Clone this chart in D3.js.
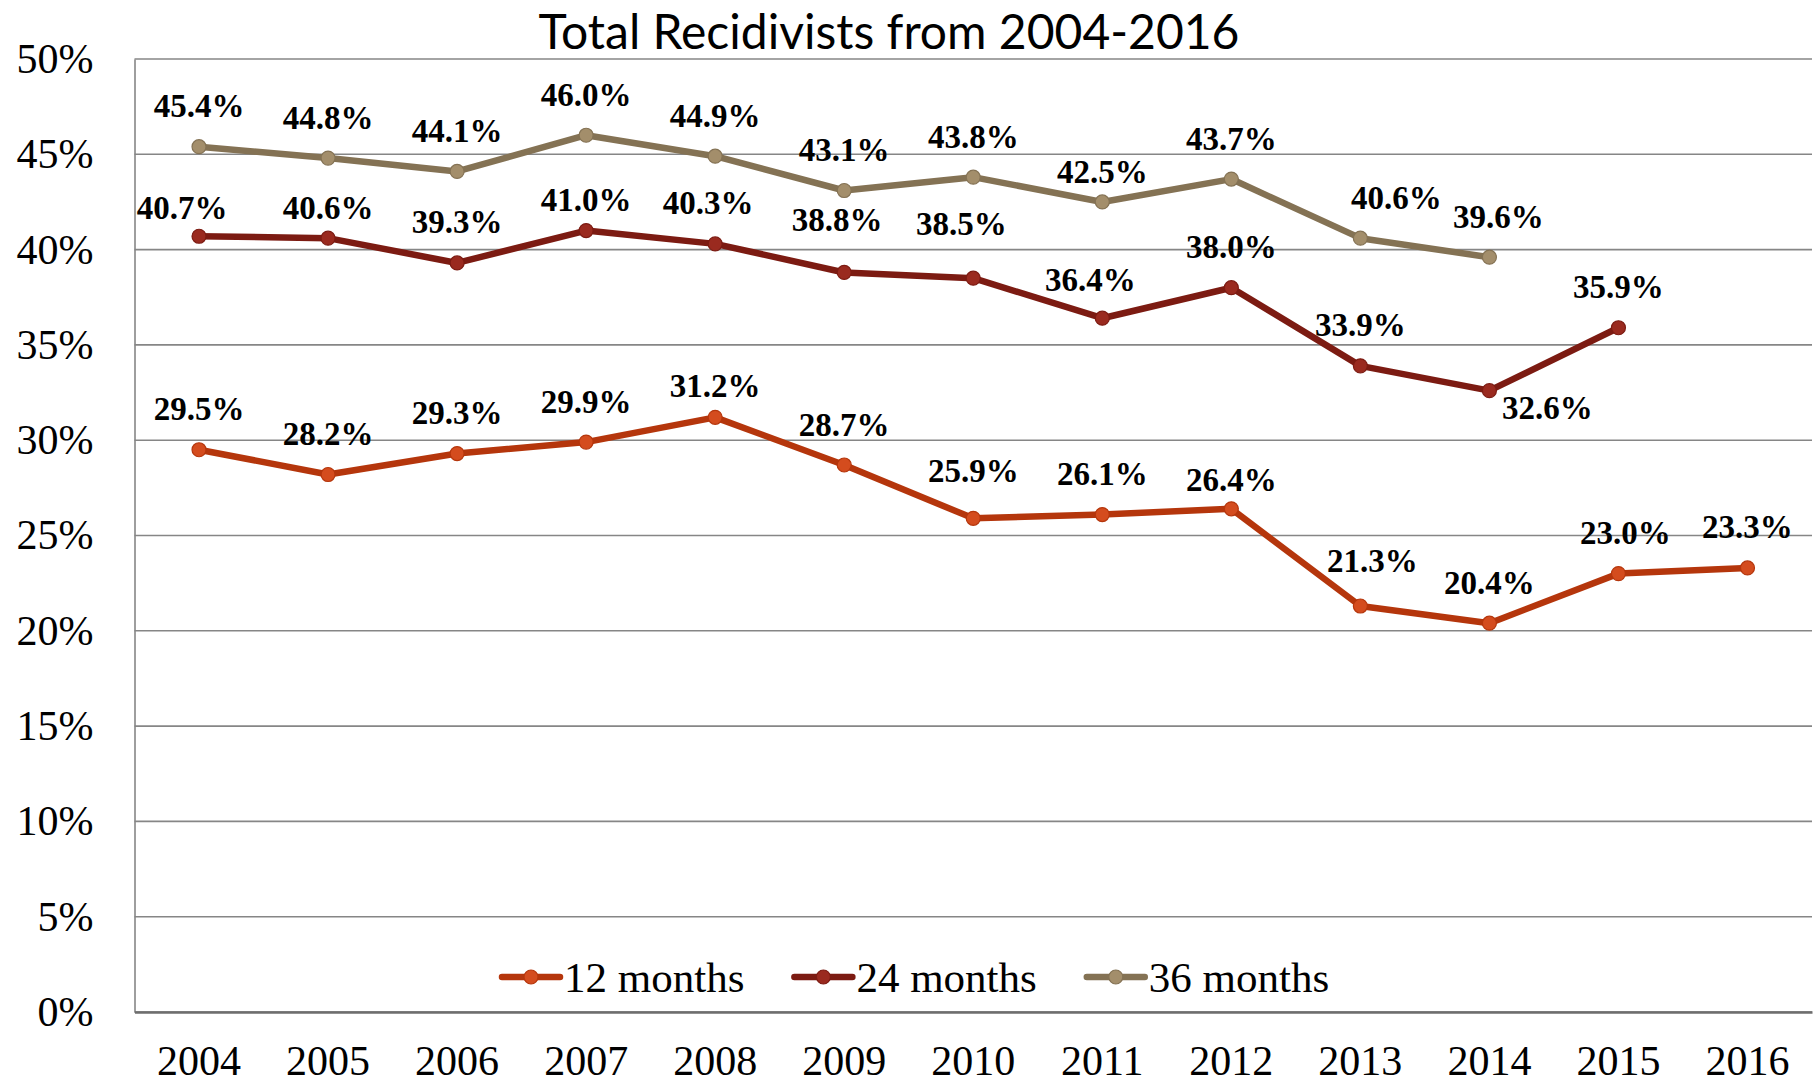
<!DOCTYPE html>
<html>
<head>
<meta charset="utf-8">
<script src="https://cdn.jsdelivr.net/npm/d3@7"></script>
<style>
  body { margin: 0; background: #fff; }
  svg { display: block; }
</style>
</head>
<body>
<div id="chart"></div>
<script>
// data
let years = ["2004", "2005", "2006", "2007", "2008", "2009", "2010", "2011", "2012", "2013", "2014", "2015", "2016"]
let months12 = [29.5, 28.2, 29.3, 29.9, 31.2, 28.7, 25.9, 26.1, 26.4, 21.3, 20.4, 23.0, 23.3]
let months24 = [40.7, 40.6, 39.3, 41.0, 40.3, 38.8, 38.5, 36.4, 38.0, 33.9, 32.6, 35.9]
let months36 = [45.4, 44.8, 44.1, 46.0, 44.9, 43.1, 43.8, 42.5, 43.7, 40.6, 39.6]
let seriesNames = ["12 months", "24 months", "36 months"]
let yTicks = [0, 5, 10, 15, 20, 25, 30, 35, 40, 45, 50]

let series = [
    {name: seriesNames[0], values: months12, line: "#b5360c", dot: "#d44c1e", dotStroke: "#b5360c"},
    {name: seriesNames[1], values: months24, line: "#7c1b12", dot: "#9a2a1f", dotStroke: "#7c1b12"},
    {name: seriesNames[2], values: months36, line: "#847254", dot: "#a38e6b", dotStroke: "#847254"}
]

// small nudges for a few data labels (Excel placed them by hand)
let labelNudge = {
    "24 months-2004": [-17, 12],
    "24 months-2005": [0, 10],
    "24 months-2007": [0, 10],
    "24 months-2008": [-7, 0],
    "24 months-2009": [-7, -12],
    "24 months-2010": [-12, -14],
    "24 months-2011": [-12, 2],
    "24 months-2014": [58, 58],
    "36 months-2011": [0, 10],
    "36 months-2013": [36, 0],
    "36 months-2014": [9, 0],
    "12 months-2008": [0, 9],
    "12 months-2010": [0, -7],
    "12 months-2012": [0, 12],
    "12 months-2013": [12, -5],
    "12 months-2015": [7, 0]
}

let serif = "'Liberation Serif', 'DejaVu Serif', serif"

let svgWidth = 1818
let svgHeight = 1086
let margin = {left: 134.5, right: 6, top: 59, bottom: 74}
let width = svgWidth - margin.left - margin.right
let height = svgHeight - margin.top - margin.bottom

let root = d3.select("#chart")
    .append("svg")
    .attr("width", svgWidth)
    .attr("height", svgHeight)

let svg = root.append("g")
    .attr("transform", "translate(" + margin.left + "," + margin.top + ")")

let xScale = d3.scaleBand()
    .domain(years)
    .range([0, width])
let yScale = d3.scaleLinear()
    .domain([0, 50])
    .range([height, 0])

// gridlines
svg.append("g")
    .selectAll("line")
    .data(yTicks)
    .join("line")
    .attr("x1", 0)
    .attr("x2", width)
    .attr("y1", d => yScale(d))
    .attr("y2", d => yScale(d))
    .attr("stroke", "#868686")
    .attr("stroke-width", 1.6)

// axes
let yAxis = d3.axisLeft(yScale)
    .tickValues(yTicks)
    .tickSize(0)
    .tickPadding(41)
    .tickFormat(d => d + "%")
let xAxis = d3.axisBottom(xScale)
    .tickSize(0)
    .tickPadding(33)

svg.append("g")
    .attr("id", "y-axis")
    .call(yAxis)
    .call(g => g.select(".domain").attr("stroke", "#868686").attr("stroke-width", 1.6))
    .selectAll("text")
    .style("font-family", serif)
    .style("font-size", "42px")
    .attr("fill", "#000")

svg.append("g")
    .attr("id", "x-axis")
    .attr("transform", `translate(0,${height})`)
    .call(xAxis)
    .call(g => g.select(".domain").attr("stroke", "#6e6e6e").attr("stroke-width", 2.4))
    .selectAll("text")
    .style("font-family", serif)
    .style("font-size", "42px")
    .attr("fill", "#000")

let cx = (d, i) => xScale(years[i]) + xScale.bandwidth() / 2
let valueLine = d3.line()
    .x(cx)
    .y(d => yScale(d))

// lines and markers
series.forEach(s => {
    svg.append("path")
        .attr("d", valueLine(s.values))
        .attr("fill", "none")
        .attr("stroke", s.line)
        .attr("stroke-width", 6.5)
        .attr("stroke-linejoin", "round")

    svg.append("g")
        .selectAll("circle")
        .data(s.values)
        .join("circle")
        .attr("cx", cx)
        .attr("cy", d => yScale(d))
        .attr("r", 7)
        .attr("fill", s.dot)
        .attr("stroke", s.dotStroke)
        .attr("stroke-width", 1.2)
})

// data labels
series.forEach(s => {
    svg.append("g")
        .selectAll("text")
        .data(s.values)
        .join("text")
        .attr("x", (d, i) => cx(d, i) + (labelNudge[s.name + "-" + years[i]] || [0, 0])[0])
        .attr("y", (d, i) => yScale(d) - 41 + (labelNudge[s.name + "-" + years[i]] || [0, 0])[1])
        .attr("dy", "0.35em")
        .attr("text-anchor", "middle")
        .style("font-family", serif)
        .style("font-weight", "bold")
        .style("font-size", "33px")
        .attr("fill", "#000")
        .text(d => d.toFixed(1) + "%")
})

// legend
let legend = root.append("g")
    .attr("transform", "translate(0,977)")
let legendX = 502
series.forEach(s => {
    let item = legend.append("g").attr("transform", `translate(${legendX},0)`)
    item.append("line")
        .attr("x1", 0).attr("x2", 58)
        .attr("y1", 0).attr("y2", 0)
        .attr("stroke", s.line)
        .attr("stroke-width", 6.5)
        .attr("stroke-linecap", "round")
    item.append("circle")
        .attr("cx", 29).attr("cy", 0).attr("r", 7)
        .attr("fill", s.dot)
        .attr("stroke", s.dotStroke)
        .attr("stroke-width", 1.2)
    let t = item.append("text")
        .attr("x", 62)
        .attr("dy", "0.35em")
        .style("font-family", serif)
        .style("font-size", "43px")
        .attr("fill", "#000")
        .text(s.name)
    legendX += 62 + t.node().getComputedTextLength() + 50
})

// title
root.append("text")
    .attr("x", 889)
    .attr("y", 49)
    .attr("text-anchor", "middle")
    .style("font-family", "Lato, 'Open Sans', sans-serif")
    .style("font-size", "48px")
    .attr("fill", "#000")
    .text("Total Recidivists from 2004-2016")
</script>
</body>
</html>
